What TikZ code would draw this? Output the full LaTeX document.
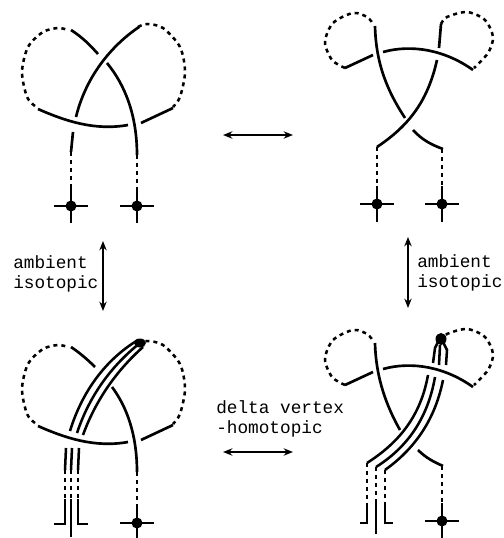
\documentclass[tikz,border=0pt]{standalone}
\usepackage{fontspec}
\usetikzlibrary{arrows.meta}
\setmonofont{Liberation Mono}
\tikzset{
  strand/.style={line width=2pt},
  thinstrand/.style={line width=1.9pt},
  dotline/.style={line width=1.9pt,dash pattern=on 3pt off 3pt},
  movearrow/.style={line width=1.6pt,{Stealth[length=7pt,width=5.5pt]}-{Stealth[length=7pt,width=5.5pt]}},
  label/.style={font=\ttfamily\fontsize{13.3}{15.4}\selectfont,align=left,inner sep=0pt,anchor=north west}
}
% parts that come back in the lower row
\newcommand{\leftloops}{
  \draw[dotline] plot[smooth] coordinates {(35,106) (27,97) (22,72) (28,47) (43,32) (58,28) (68,30)};
  \draw[dotline] plot[smooth] coordinates {(138,27) (147,24) (163,28) (180,47) (185,72) (180,97) (173,107)};
  \draw[strand] (38,109) .. controls (65,121) and (95,131) .. (128,125);
  \draw[strand] (141,123) -- (173,108);
}
\newcommand{\rightloops}{
  \draw[dotline] plot[smooth] coordinates {(345,68) (332,60) (325,42) (333,23) (353,13) (367,17) (374,25)};
  \draw[dotline] plot[smooth] coordinates {(441,24) (447,17) (467,12) (485,20) (493,37) (488,53) (474,68)};
  \draw[strand] (345,68) -- (373,55);
  \draw[strand] (383,52) .. controls (412,44) and (445,50) .. (473,70);
}
\newcommand{\stem}[3]{% x, top of dots, top of cross
  \draw[dotline] (#1,#2) -- (#1,#3);
  \draw[strand] (#1,#3) -- (#1,#3+36);
}
\newcommand{\vertexcross}[2]{
  \draw[strand] (#1-17,#2) -- (#1+17,#2);
  \fill (#1,#2) circle (5.5);
}
\begin{document}
\begin{tikzpicture}[x=0.75pt,y=-0.75pt]
  \useasboundingbox (0,0) rectangle (503,538);
  % top left
  \leftloops
  \draw[strand] (71,30) .. controls (82,37) and (90,45) .. (98,54);
  \draw[strand] (107,63) .. controls (125,85) and (137,115) .. (137,155);
  \draw[strand] (76,117) .. controls (85,80) and (108,48) .. (139,27);
  \draw[strand] (73,132) -- (71,152);
  \stem{71}{152}{187}
  \stem{137}{155}{187}
  \vertexcross{71}{206}
  \vertexcross{137}{206}
  % top right
  \rightloops
  \draw[strand] (375,26) .. controls (376,65) and (388,92) .. (405,118);
  \draw[strand] (413,130) .. controls (422,140) and (432,145) .. (443,149);
  \draw[strand] (441,24) -- (439,48);
  \draw[strand] (437,60) .. controls (428,100) and (410,125) .. (377,147);
  \stem{377}{147}{186}
  \stem{442}{149}{186}
  \vertexcross{377}{204}
  \vertexcross{442}{204}
  % bottom left
  \begin{scope}[shift={(0,317)}]
    \leftloops
    \draw[strand] (71,30) .. controls (80,36) and (88,43) .. (95,50);
    \draw[strand] (112,70) .. controls (127,90) and (137,118) .. (137,155);
    \stem{137}{155}{187}
    \vertexcross{137}{206}
  \end{scope}
  \draw[thinstrand] (70,431) .. controls (82,392) and (105,360) .. (138,340);
  \draw[thinstrand] (77,433) .. controls (89,397) and (110,367) .. (140,343);
  \draw[thinstrand] (83,435) .. controls (95,402) and (115,372) .. (143,347);
  \fill (140,343) ellipse (6 and 4.5);
  \draw[thinstrand] (66,448) -- (65,470);
  \draw[thinstrand] (72,448) -- (71,470);
  \draw[thinstrand] (79,448) -- (78,470);
  \draw[dotline] (65,470) -- (65,499) (71,470) -- (71,499) (78,470) -- (78,499);
  \draw[strand] (65,499) -- (65,524) -- (54,524);
  \draw[strand] (71,499) -- (71,537);
  \draw[strand] (78,499) -- (78,524) -- (88,524);
  % bottom right
  \begin{scope}[shift={(0,317)}]
    \rightloops
    \draw[strand] (375,26) .. controls (376,62) and (387,90) .. (400,113);
  \end{scope}
  \draw[strand] (418,450) .. controls (426,458) and (434,462) .. (443,466);
  \stem{442}{466}{503}
  \vertexcross{442}{521}
  \draw[thinstrand] (428,375) .. controls (420,420) and (395,445) .. (367,463);
  \draw[thinstrand] (435,377) .. controls (427,423) and (403,450) .. (376,467);
  \draw[thinstrand] (443,380) .. controls (434,425) and (410,452) .. (385,470);
  \draw[thinstrand] (433,363) -- (435,348) -- (438,342);
  \draw[thinstrand] (439,365) -- (440,345);
  \draw[thinstrand] (446,365) -- (447,350) -- (443,342);
  \fill (441,339) ellipse (5.5 and 6);
  \draw[dotline] (367,463) -- (367,503) (376,467) -- (376,503) (385,470) -- (385,503);
  \draw[strand] (367,503) -- (367,523) -- (360,523);
  \draw[strand] (376,503) -- (376,534);
  \draw[strand] (385,503) -- (385,523) -- (393,523);
  % moves between the pictures
  \coordinate (topleft) at (223,135);
  \coordinate (topright) at (293,135);
  \coordinate (lowleft) at (223,452);
  \coordinate (lowright) at (293,452);
  \coordinate (leftup) at (103,241);
  \coordinate (leftdown) at (103,311);
  \coordinate (rightup) at (408,237);
  \coordinate (rightdown) at (408,308);
  \draw[movearrow] (topleft) -- (topright);
  \draw[movearrow] (lowleft) -- (lowright);
  \draw[movearrow] (leftup) -- (leftdown);
  \draw[movearrow] (rightup) -- (rightdown);
  \node[label] (isotopicleft) at (13,255) {ambient\\isotopic};
  \node[label] (isotopicright) at (417,254) {ambient\\isotopic};
  \node[label] (deltahomotopic) at (216,400) {delta vertex\\-homotopic};
\end{tikzpicture}
\end{document}
